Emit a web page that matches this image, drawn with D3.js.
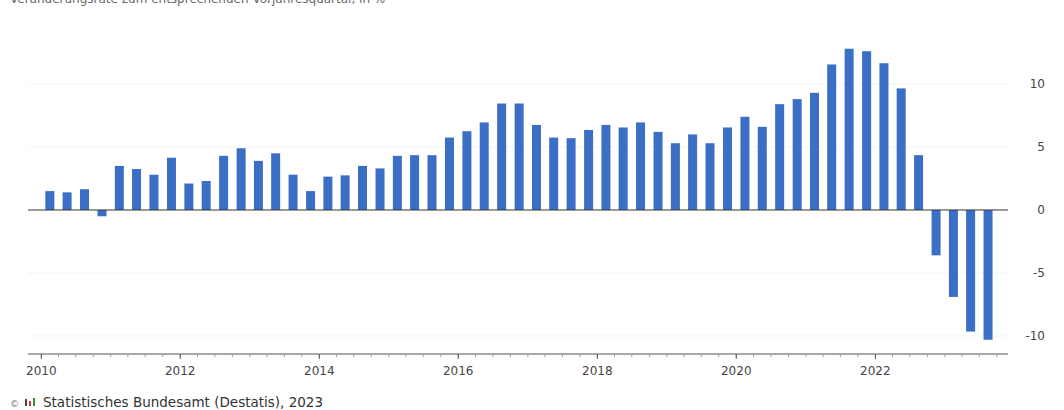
<!DOCTYPE html>
<html>
<head>
<meta charset="utf-8">
<script src="https://cdn.jsdelivr.net/npm/d3@7"></script>
<style>
  html, body { margin: 0; padding: 0; background: #fff; }
  svg { display: block; font-family: "DejaVu Sans", "Noto Sans", sans-serif; }
</style>
</head>
<body>
<svg id="chart" width="1064" height="410"></svg>
<script>
// Quarters 2010 Q1 .. 2023 Q3
const quarters = d3.range(55).map(i => ({ year: 2010 + Math.floor(i / 4), q: (i % 4) + 1 }));
const values = [
  1.5, 1.4, 1.65, -0.5,
  3.5, 3.25, 2.8, 4.15,
  2.1, 2.3, 4.3, 4.9,
  3.9, 4.5, 2.8, 1.5,
  2.65, 2.75, 3.5, 3.3,
  4.3, 4.35, 4.35, 5.75,
  6.25, 6.95, 8.45, 8.45,
  6.75, 5.75, 5.7, 6.35,
  6.75, 6.55, 6.95, 6.2,
  5.3, 6.0, 5.3, 6.55,
  7.4, 6.6, 8.4, 8.8,
  9.3, 11.55, 12.8, 12.6,
  11.65, 9.65, 4.35, -3.6,
  -6.9, -9.65, -10.3
];
const yTicks = [10, 5, 0, -5, -10];
const xLabelYears = [2010, 2012, 2014, 2016, 2018, 2020, 2022];
const subtitle = "Veränderungsrate zum entsprechenden Vorjahresquartal, in %";
const source = "Statistisches Bundesamt (Destatis), 2023";

const svg = d3.select("#chart");

const x = d3.scaleTime()
  .domain([new Date(2010, 0, 1), new Date(2024, 0, 1)])
  .range([41.3, 41.3 + 14 * 69.5]);

const y = d3.scaleLinear().domain([-11.43, 13.5]).range([354, 39.9]);

// subtitle (cut off at top, as in the original)
svg.append("text").attr("x", 10).attr("y", 3)
  .attr("font-size", 12).attr("fill", "#666").text(subtitle);

// faint gridlines
svg.append("g").selectAll("line").data(yTicks.filter(d => d !== 0)).join("line")
  .attr("x1", 28).attr("x2", 1008)
  .attr("y1", d => y(d)).attr("y2", d => y(d))
  .attr("stroke", "#f4f4f4").attr("stroke-width", 1);

// bars
const bw = 9;
const qCenter = (d) => {
  const a = x(new Date(d.year, (d.q - 1) * 3, 1));
  const b = x(new Date(d.year, d.q * 3, 1));
  return (a + b) / 2;
};
svg.append("g").selectAll("rect").data(values).join("rect")
  .attr("x", (v, i) => qCenter(quarters[i]) - bw / 2)
  .attr("width", bw)
  .attr("y", v => y(Math.max(0, v)))
  .attr("height", v => Math.abs(y(v) - y(0)))
  .attr("fill", "#3b6fc5");

// zero line
svg.append("line").attr("x1", 28).attr("x2", 1008)
  .attr("y1", y(0)).attr("y2", y(0))
  .attr("stroke", "#333").attr("stroke-width", 1);

// right y axis labels
svg.append("g").selectAll("text").data(yTicks).join("text")
  .attr("x", 1045).attr("y", d => y(d))
  .attr("dy", "0.35em").attr("text-anchor", "end")
  .attr("font-size", 12).attr("fill", "#444")
  .text(d => d);

// bottom axis
const axisY = 354;
const gx = svg.append("g").attr("transform", `translate(0,${axisY})`);
gx.append("line").attr("x1", 28).attr("x2", 1008).attr("stroke", "#555");
const quarterTicks = d3.range(56).map(i => new Date(2010 + Math.floor(i / 4), (i % 4) * 3, 1));
gx.selectAll("line.minor").data(quarterTicks).join("line").attr("class", "minor")
  .attr("x1", d => x(d)).attr("x2", d => x(d))
  .attr("y1", 0).attr("y2", 3).attr("stroke", "#999");
gx.selectAll("line.major").data(xLabelYears).join("line").attr("class", "major")
  .attr("x1", d => x(new Date(d, 0, 1))).attr("x2", d => x(new Date(d, 0, 1)))
  .attr("y1", 0).attr("y2", 5).attr("stroke", "#555");
gx.selectAll("text").data(xLabelYears).join("text")
  .attr("x", d => x(new Date(d, 0, 1)))
  .attr("y", 21).attr("text-anchor", "middle")
  .attr("font-size", 12).attr("fill", "#444")
  .text(d => d);

// footer
const f = svg.append("g");
f.append("text").attr("x", 10).attr("y", 407).attr("font-size", 9).attr("fill", "#777").text("©");
f.append("rect").attr("x", 25).attr("y", 399).attr("width", 2).attr("height", 7).attr("fill", "#444");
f.append("rect").attr("x", 29).attr("y", 401).attr("width", 2).attr("height", 5).attr("fill", "#c33");
f.append("rect").attr("x", 33).attr("y", 398).attr("width", 2).attr("height", 8).attr("fill", "#3a8f3a");
f.append("text").attr("x", 43).attr("y", 407).attr("font-size", 13.5).attr("fill", "#333").text(source);
</script>
</body>
</html>
